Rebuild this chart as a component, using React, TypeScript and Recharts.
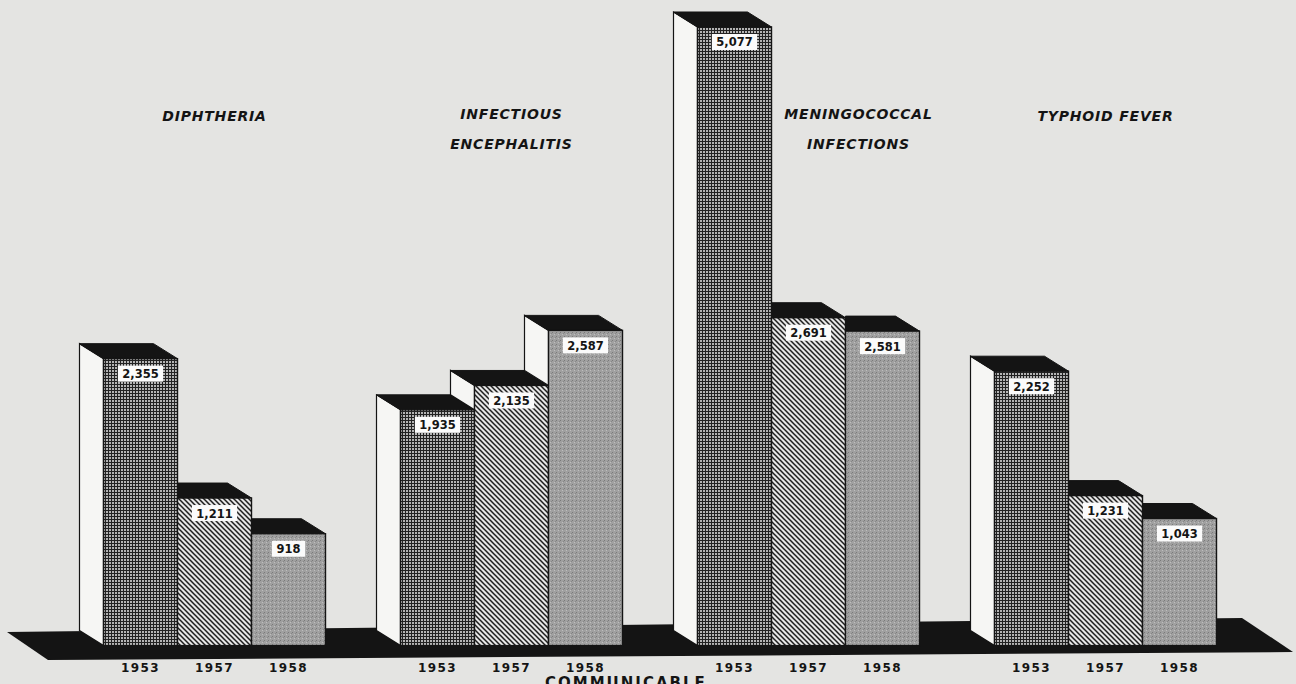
import { Bar, BarChart, LabelList, ReferenceArea, XAxis, YAxis } from 'recharts'

const diseases = ['DIPHTHERIA', 'INFECTIOUS ENCEPHALITIS', 'MENINGOCOCCAL INFECTIONS', 'TYPHOID FEVER']
const titleLines = [['DIPHTHERIA'], ['INFECTIOUS', 'ENCEPHALITIS'], ['MENINGOCOCCAL', 'INFECTIONS'], ['TYPHOID  FEVER']]
const years = ['1953', '1957', '1958']
const cases1953 = [2355, 1935, 5077, 2252]
const cases1957 = [1211, 2135, 2691, 1231]
const cases1958 = [918, 2587, 2581, 1043]

const data = diseases.map((disease, i) => ({
  disease,
  y1953: cases1953[i],
  y1957: cases1957[i],
  y1958: cases1958[i],
}))

const DX = 24
const DY = 15
const INK = '#141414'
const FONT = '"DejaVu Sans", sans-serif'

// 3d block: white side face on the left, black top, patterned front
function makeBlock(dataKey: string, prevKey: string | null, fillId: string) {
  return function Block(props: any) {
    const { x, y, width: w, height: h, payload } = props
    const base = y + h
    const value = payload[dataKey]
    let prevTop: number | null = null
    if (prevKey && value > 0) prevTop = base - (payload[prevKey] * h) / value

    let side: string | null = null
    let top: string
    if (prevTop === null) {
      side = `${x},${y} ${x - DX},${y - DY} ${x - DX},${base - DY} ${x},${base}`
      top = `${x},${y} ${x + w},${y} ${x + w - DX},${y - DY} ${x - DX},${y - DY}`
    } else if (prevTop > y) {
      side = `${x},${y} ${x - DX},${y - DY} ${x - DX},${prevTop - DY} ${x},${prevTop}`
      top = `${x},${y} ${x + w},${y} ${x + w - DX},${y - DY} ${x - DX},${y - DY}`
    } else {
      top = `${x},${y} ${x + w},${y} ${x + w - DX},${y - DY} ${x},${y - DY}`
    }
    return (
      <g>
        {side && <polygon points={side} fill="#f6f6f4" stroke={INK} strokeWidth={1.2} />}
        <polygon points={top} fill={INK} stroke={INK} strokeWidth={1} />
        <rect x={x} y={y} width={w} height={h} fill={`url(#${fillId})`} stroke={INK} strokeWidth={1.4} />
      </g>
    )
  }
}

function Floor(props: any) {
  const { x, y, width, height } = props
  const bottom = y + height
  const pts = [
    `${x - 59},${y + 7}`,
    `${x + width - 12},${y - 7}`,
    `${x + width + 39},${bottom - 7}`,
    `${x - 18},${bottom + 1}`,
  ].join(' ')
  return <polygon points={pts} fill={INK} />
}

function valueBox(props: any) {
  const vb = props.viewBox ?? props
  const { x, y, width } = vb
  const text = Number(props.value).toLocaleString('en-US')
  const digits = text.replace(/,/g, '').length
  const boxW = digits * 7.8 + (text.includes(',') ? 4 : 0) + 10
  const cx = x + width / 2
  return (
    <g>
      <rect x={cx - boxW / 2} y={y + 7} width={boxW} height={16} fill="#fbfbfb" />
      <text x={cx} y={y + 19.5} textAnchor="middle" fontFamily={FONT} fontWeight="bold" fontSize={11.5} fill={INK}>
        {text}
      </text>
    </g>
  )
}

function yearLabel(year: string) {
  return function YearLabel(props: any) {
    const vb = props.viewBox ?? props
    const { x, y, width, height } = vb
    return (
      <text
        x={x + width / 2}
        y={y + height + 26}
        textAnchor="middle"
        fontFamily={FONT}
        fontWeight="bold"
        fontSize={12}
        letterSpacing={1.4}
        fill={INK}
      >
        {year}
      </text>
    )
  }
}

function titleLabel(props: any) {
  const vb = props.viewBox ?? props
  const { x, width } = vb
  const i = props.index
  const lines = titleLines[i] ?? []
  // the tall meningococcal bar pushes its title to the right
  const shift = i === 2 ? 50 : 0
  const first = lines.length > 1 ? 119 : 121
  return (
    <text
      x={x + width / 2 + shift}
      textAnchor="middle"
      fontFamily={FONT}
      fontWeight="bold"
      fontStyle="italic"
      fontSize={14}
      letterSpacing={0.8}
      fill={INK}
    >
      {lines.map((line, k) => (
        <tspan key={k} x={x + width / 2 + shift} y={first + k * 30}>
          {line}
        </tspan>
      ))}
    </text>
  )
}

export default function App() {
  return (
    <div
      style={{
        position: 'fixed',
        left: 0,
        top: 0,
        width: 1296,
        height: 684,
        background: '#e4e4e2',
        overflow: 'hidden',
      }}
    >
      <BarChart
        width={1296}
        height={684}
        data={data}
        margin={{ top: 12, right: 42, bottom: 25, left: 66 }}
        barGap={0}
        barCategoryGap={37.5}
      >
        <defs>
          <pattern id="grid53" width={3} height={3} patternUnits="userSpaceOnUse">
            <rect width={3} height={3} fill="#b4b4b4" />
            <path d="M0 0.5H3M0.5 0V3" stroke="#222" strokeWidth={1} />
          </pattern>
          <pattern id="hatch57" width={5} height={5} patternUnits="userSpaceOnUse">
            <rect width={5} height={5} fill="#e6e6e6" />
            <path d="M0 0L5 5M-1 4L1 6M4 -1L6 1" stroke="#1e1e1e" strokeWidth={1.5} />
          </pattern>
          <pattern id="dots58" width={4} height={4} patternUnits="userSpaceOnUse">
            <rect width={4} height={4} fill="#a0a0a0" />
            <rect x={0} y={0} width={1} height={1} fill="#7a7a7a" />
            <rect x={2} y={2} width={1} height={1} fill="#bebebe" />
            <rect x={3} y={1} width={1} height={1} fill="#888" />
          </pattern>
        </defs>
        <XAxis dataKey="disease" hide />
        <YAxis hide domain={[-110, 5200]} />
        <ReferenceArea y1={-110} y2={170} ifOverflow="visible" shape={Floor} fill={INK} />
        <Bar dataKey="y1953" shape={makeBlock('y1953', null, 'grid53')} isAnimationActive={false}>
          <LabelList dataKey="y1953" content={valueBox} />
          <LabelList dataKey="y1953" content={yearLabel(years[0])} />
        </Bar>
        <Bar dataKey="y1957" shape={makeBlock('y1957', 'y1953', 'hatch57')} isAnimationActive={false}>
          <LabelList dataKey="y1957" content={valueBox} />
          <LabelList dataKey="y1957" content={yearLabel(years[1])} />
          <LabelList dataKey="disease" content={titleLabel} />
        </Bar>
        <Bar dataKey="y1958" shape={makeBlock('y1958', 'y1957', 'dots58')} isAnimationActive={false}>
          <LabelList dataKey="y1958" content={valueBox} />
          <LabelList dataKey="y1958" content={yearLabel(years[2])} />
        </Bar>
      </BarChart>
      <div
        style={{
          position: 'absolute',
          left: 545,
          top: 674,
          fontFamily: FONT,
          fontWeight: 'bold',
          fontSize: 15,
          letterSpacing: 2,
          color: INK,
          lineHeight: '18px',
        }}
      >
        COMMUNICABLE
      </div>
    </div>
  )
}
